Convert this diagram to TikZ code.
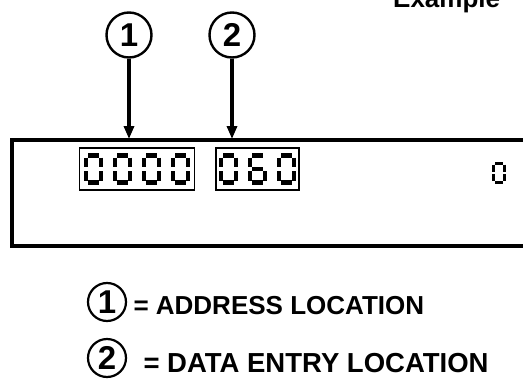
\documentclass[tikz,border=0pt]{standalone}
\usepackage{fontspec}
\setmainfont{Liberation Sans}
\usetikzlibrary{arrows.meta}
\tikzset{
  callout/.style={circle, draw, line width=2.4pt, minimum size=45pt, inner sep=0pt, font=\bfseries\fontsize{33}{35}\selectfont},
  legcircle/.style={circle, draw, line width=2.2pt, minimum size=38pt, inner sep=0pt, font=\bfseries\fontsize{33}{35}\selectfont},
  pointer/.style={line width=3.4pt, -{Triangle[length=13pt,width=10pt]}},
  frame/.style={line width=3.5pt},
  digitbox/.style={draw, line width=1.2pt, inner sep=0pt},
  segline/.style={line width=4.3pt, line cap=butt},
  smallseg/.style={line width=3pt, line cap=butt},
  legtext/.style={anchor=base west, font=\bfseries\fontsize{26}{28}\selectfont},
}
\newcommand{\segA}{\draw (-5.5,-13.5) -- (5.5,-13.5);}
\newcommand{\segB}{\draw (7.5,-11.5) -- (7.5,-2);}
\newcommand{\segC}{\draw (7.5,2) -- (7.5,11.5);}
\newcommand{\segD}{\draw (-5.5,13.5) -- (5.5,13.5);}
\newcommand{\segE}{\draw (-7.5,2) -- (-7.5,11.5);}
\newcommand{\segF}{\draw (-7.5,-11.5) -- (-7.5,-2);}
\newcommand{\segG}{\draw (-5.5,0) -- (5.5,0);}
\newcommand{\dzero}[2]{\begin{scope}[shift={(#1,#2)}, segline]\segA\segB\segC\segD\segE\segF\end{scope}}
\newcommand{\dsix}[2]{\begin{scope}[shift={(#1,#2)}, segline]\segA\segC\segD\segE\segF\segG\end{scope}}
\begin{document}
\begin{tikzpicture}[x=1pt,y=-1pt]
\useasboundingbox (0,0) rectangle (523,383);
% title
\node[anchor=base west, inner sep=0pt, font=\bfseries\fontsize{26}{28}\selectfont] (title) at (393,7) {Example};
% callouts
\node[callout] (c1) at (129,35) {1};
\node[callout] (c2) at (232,35) {2};
% main display frame
\coordinate (tr) at (530,140);
\coordinate (tl) at (12,140);
\coordinate (bl) at (12,246);
\coordinate (br) at (530,246);
\draw[frame] (tr) -- (tl) -- (bl) -- (br);
\coordinate (t1) at (129,139);
\coordinate (t2) at (232,139);
\draw[pointer] (c1) -- (t1);
\draw[pointer] (c2) -- (t2);
% digit boxes
\node[digitbox, minimum width=115pt, minimum height=42pt] (box1) at (137,169) {};
\node[digitbox, minimum width=83pt, minimum height=42pt] (box2) at (257.5,169) {};
\dzero{93.5}{169}
\dzero{122.5}{169}
\dzero{151.5}{169}
\dzero{180.5}{169}
\dzero{228.5}{169}
\dsix{257.5}{169}
\dzero{286.5}{169}
\begin{scope}[shift={(499,173)}, scale=0.72, smallseg]
\segA\segB\segC\segD\segE\segF
\end{scope}
% legend
\node[legcircle] (l1) at (107,302) {1};
\node[legtext] (t1txt) at (130,314) {= ADDRESS LOCATION};
\node[legcircle] (l2) at (107,358) {2};
\node[legtext, font=\bfseries\fontsize{27.5}{29}\selectfont] (t2txt) at (140,372) {= DATA ENTRY LOCATION};
\end{tikzpicture}
\end{document}
